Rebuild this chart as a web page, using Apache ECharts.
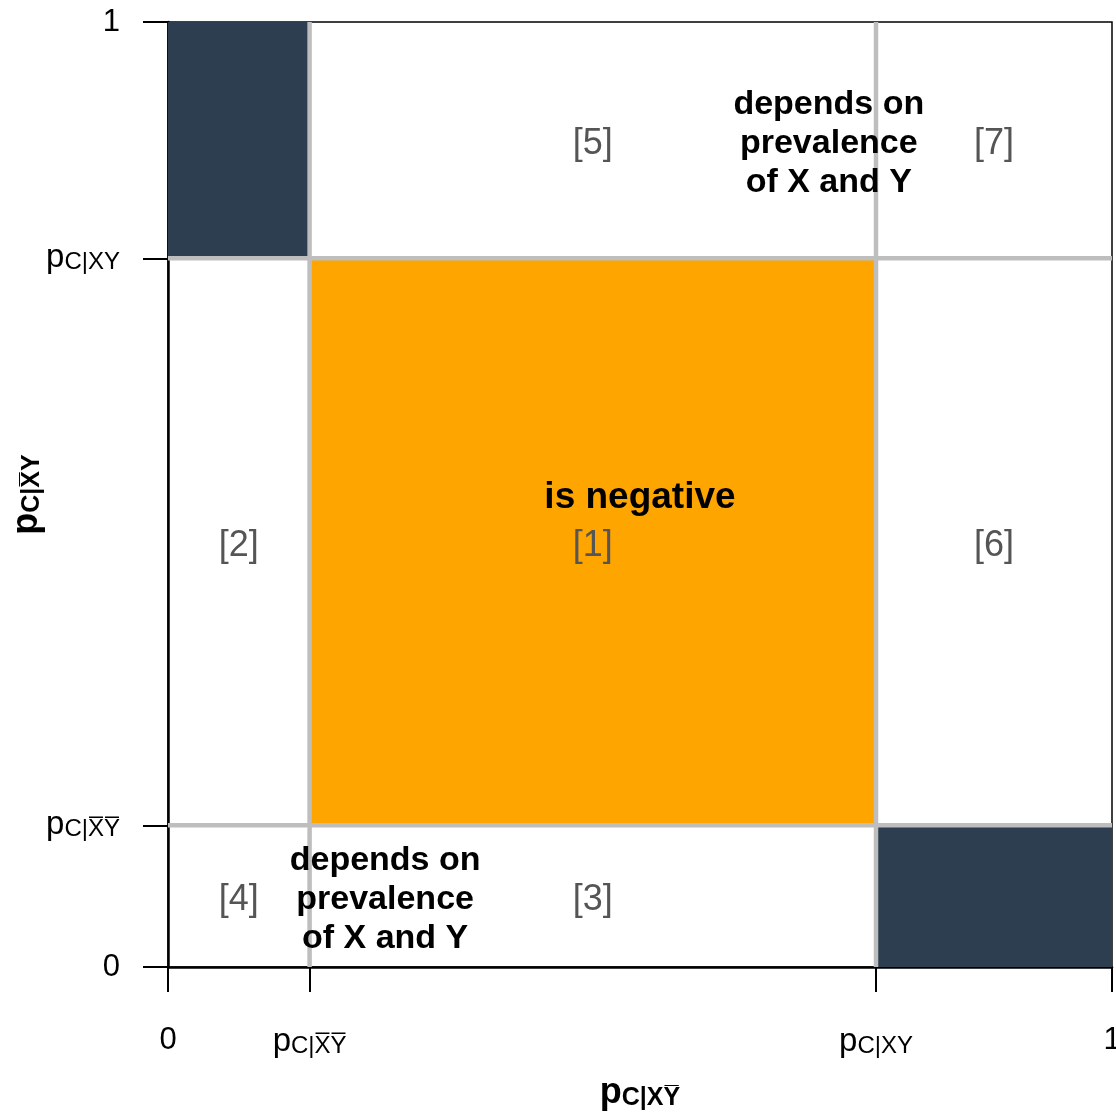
<!DOCTYPE html>
<html>
<head>
<meta charset="utf-8">
<script src="https://cdn.jsdelivr.net/npm/echarts@6/dist/echarts.min.js"></script>
<style>
html,body{margin:0;padding:0;background:#fff;}
#chart{width:1116px;height:1120px;}
</style>
</head>
<body>
<div id="chart"></div>
<script>
// ---- data ----
const tickValues = [0, 0.15, 0.75, 1];
const xTickLabels = ['{n|0}', '{p|p}{s|C|X\u0305Y\u0305}', '{p|p}{s|C|XY}', '{n|1}'];
const yTickLabels = ['{n|0}', '{p|p}{s|C|X\u0305Y\u0305}', '{p|p}{s|C|XY}', '{n|1}'];
const xAxisTitle = '{p|p}{s|C|XY\u0305}';
const yAxisTitle = '{p|p}{s|C|X\u0305Y}';

// shaded regions
const rectX0 = [0, 0.75, 0.15];
const rectX1 = [0.15, 1, 0.75];
const rectY0 = [0.75, 0, 0.15];
const rectY1 = [1, 0.15, 0.75];
const rectKind = ['dark', 'dark', 'orange'];

// divider lines
const dividerX = [0.15, 0.75];
const dividerY = [0.15, 0.75];

// region numbers
const regionLabels = ['[1]', '[2]', '[3]', '[4]', '[5]', '[6]', '[7]'];
const regionX = [0.45, 0.075, 0.45, 0.075, 0.45, 0.875, 0.875];
const regionY = [0.45, 0.45, 0.075, 0.075, 0.875, 0.45, 0.875];

// annotations
const noteTexts = ['is negative', 'depends on\nprevalence\nof X and Y', 'depends on\nprevalence\nof X and Y'];
const noteX = [0.5, 0.7, 0.23];
const noteY = [0.5, 0.875, 0.075];
const noteSize = [37, 34, 34];

// ---- chart ----
const FONT = '"Liberation Sans", Arial, Helvetica, "DejaVu Sans", sans-serif';
const colors = { dark: '#2C3E50', orange: '#FFA500' };
const chart = echarts.init(document.getElementById('chart'), null, { renderer: 'canvas' });

const tickRich = {
  n: { fontSize: 31, fontFamily: FONT, color: '#000', lineHeight: 31, verticalAlign: 'bottom' },
  p: { fontSize: 33, fontFamily: FONT, color: '#000', lineHeight: 33, verticalAlign: 'bottom' },
  s: { fontSize: 24, fontFamily: FONT, color: '#000', lineHeight: 24, verticalAlign: 'bottom' }
};
const titleRich = {
  p: { fontSize: 36, fontFamily: FONT, fontWeight: 'bold', color: '#000', lineHeight: 36, verticalAlign: 'bottom' },
  s: { fontSize: 25, fontFamily: FONT, fontWeight: 'bold', color: '#000', lineHeight: 25, verticalAlign: 'bottom' }
};

const option = {
  animation: false,
  backgroundColor: '#fff',
  grid: { left: 168, right: 4, top: 22, bottom: 153, containLabel: false, outerBoundsMode: 'none',
    show: true, borderColor: '#000', borderWidth: 1.5, backgroundColor: 'transparent' },
  xAxis: {
    type: 'value', min: 0, max: 1,
    splitLine: { show: false },
    axisLine: { show: true, onZero: false, lineStyle: { color: '#000', width: 2.5 } },
    axisTick: { show: true, customValues: tickValues, length: 25, lineStyle: { color: '#000', width: 2 } },
    axisLabel: {
      customValues: tickValues, margin: 58, showMinLabel: true, showMaxLabel: true, hideOverlap: false,
      formatter: function (v) { return xTickLabels[tickValues.indexOf(v)]; },
      rich: tickRich
    },
    name: xAxisTitle, nameLocation: 'middle', nameGap: 108, nameMoveOverlap: false,
    nameTextStyle: { rich: titleRich }
  },
  yAxis: {
    type: 'value', min: 0, max: 1,
    splitLine: { show: false },
    axisLine: { show: true, onZero: false, lineStyle: { color: '#000', width: 2.5 } },
    axisTick: { show: true, customValues: tickValues, length: 25, lineStyle: { color: '#000', width: 2 } },
    axisLabel: {
      customValues: tickValues, margin: 48, showMinLabel: true, showMaxLabel: true, hideOverlap: false,
      formatter: function (v) { return yTickLabels[tickValues.indexOf(v)]; },
      rich: tickRich
    },
    name: yAxisTitle, nameLocation: 'middle', nameGap: 123, nameRotate: 90, nameMoveOverlap: false,
    nameTextStyle: { rich: titleRich }
  },
  series: [
    {
      type: 'custom', z: 1, silent: true,
      data: rectKind.map((k, i) => [rectX0[i], rectX1[i], rectY0[i], rectY1[i], i]),
      renderItem: function (params, api) {
        const i = api.value(4);
        const a = api.coord([api.value(0), api.value(3)]);
        const b = api.coord([api.value(1), api.value(2)]);
        return { type: 'rect', shape: { x: a[0], y: a[1], width: b[0] - a[0], height: b[1] - a[1] },
          style: { fill: colors[rectKind[i]] } };
      }
    },
    {
      type: 'custom', z: 2, silent: true,
      data: dividerX.map(v => [v, 0]).concat(dividerY.map(v => [v, 1])),
      renderItem: function (params, api) {
        const v = api.value(0), dir = api.value(1);
        const a = dir === 0 ? api.coord([v, 0]) : api.coord([0, v]);
        const b = dir === 0 ? api.coord([v, 1]) : api.coord([1, v]);
        return { type: 'line', shape: { x1: a[0], y1: a[1], x2: b[0], y2: b[1] },
          style: { stroke: '#BEBEBE', lineWidth: 4.5 } };
      }
    },
    {
      type: 'custom', z: 3, silent: true,
      data: regionLabels.map((t, i) => [regionX[i], regionY[i], i]),
      renderItem: function (params, api) {
        const p = api.coord([api.value(0), api.value(1)]);
        return { type: 'text', x: p[0], y: p[1] + 4,
          style: { text: regionLabels[api.value(2)], fontSize: 36, fontFamily: FONT, fill: '#555555',
            align: 'center', verticalAlign: 'middle' } };
      }
    },
    {
      type: 'custom', z: 4, silent: true,
      data: noteTexts.map((t, i) => [noteX[i], noteY[i], i]),
      renderItem: function (params, api) {
        const i = api.value(2);
        const p = api.coord([api.value(0), api.value(1)]);
        return { type: 'text', x: p[0], y: p[1] + 3,
          style: { text: noteTexts[i], fontSize: noteSize[i], fontWeight: 'bold', fontFamily: FONT, fill: '#000',
            lineHeight: 39, align: 'center', verticalAlign: 'middle' } };
      }
    }
  ]
};
chart.setOption(option);
</script>
</body>
</html>
